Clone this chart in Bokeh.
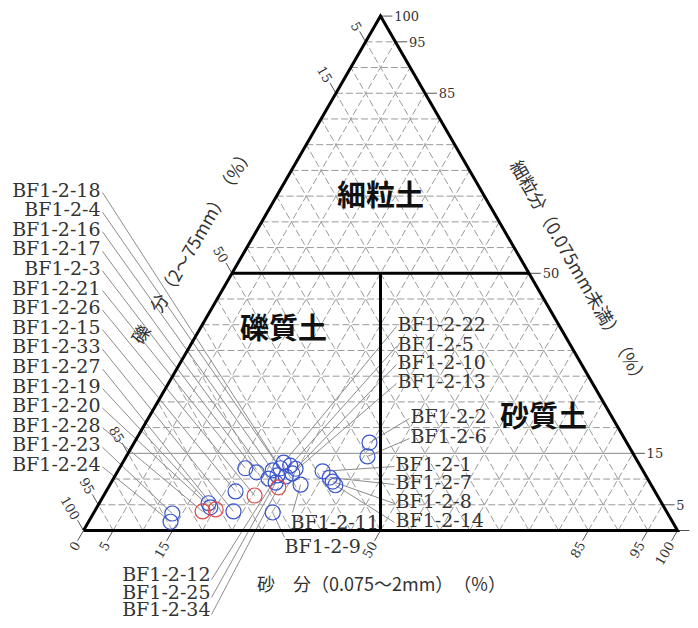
import math
from bokeh.plotting import figure
from bokeh.models import Range1d
from bokeh.embed import file_html
from bokeh.resources import INLINE
from bokeh.core.properties import value

# ---------------- data (percent) ----------------
samples = ["BF1-2-1", "BF1-2-2", "BF1-2-3", "BF1-2-4", "BF1-2-5", "BF1-2-6",
           "BF1-2-7", "BF1-2-8", "BF1-2-9", "BF1-2-10", "BF1-2-11", "BF1-2-12",
           "BF1-2-13", "BF1-2-14", "BF1-2-15", "BF1-2-16", "BF1-2-17", "BF1-2-18",
           "BF1-2-19", "BF1-2-20", "BF1-2-21", "BF1-2-22", "BF1-2-23", "BF1-2-24",
           "BF1-2-25", "BF1-2-26", "BF1-2-27", "BF1-2-28", "BF1-2-33", "BF1-2-34"]
sand = [34.5, 39.6, 23.5, 28.8, 28.5, 40.6, 36.3, 37.2, 30.1, 29.7, 32.1, 27.3,
        29.6, 38.0, 21.8, 26.0, 26.1, 27.1, 18.4, 19.1, 21.2, 27.1, 13.3, 13.8,
        27.7, 25.4, 20.2, 18.2, 23.4, 28.6]
fines = [11.5, 17.1, 11.3, 10.5, 12.6, 14.4, 10.3, 9.5, 3.5, 12.0, 8.9, 10.7,
         11.1, 8.8, 7.6, 11.7, 10.1, 12.1, 5.3, 4.5, 12.1, 13.2, 3.3, 1.7,
         9.3, 6.8, 4.1, 3.7, 3.7, 8.4]
gravel = [54.0, 43.3, 65.2, 60.7, 58.9, 45.0, 53.4, 53.3, 66.4, 58.3, 59.0, 62.0,
          59.3, 53.2, 70.6, 62.3, 63.8, 60.8, 76.3, 76.4, 66.7, 59.7, 83.4, 84.5,
          63.0, 67.8, 75.7, 78.1, 72.9, 63.0]
red_samples = ["BF1-2-26", "BF1-2-27", "BF1-2-28", "BF1-2-34"]

sand_ticks = [0, 5, 15, 50, 85, 95, 100]
gravel_ticks = [5, 15, 50, 85, 95, 100]
fines_ticks = [100, 95, 85, 50, 15, 5]

region_names = ["細粒土", "礫質土", "砂質土"]
title_sand = "砂　分（0.075～2mm）　（%）"
title_gravel = "礫　分（2～75mm）　（%）"
title_fines = "細粒分（0.075mm未満）　（%）"

# ---------------- layout helpers ----------------
H = math.sqrt(3) / 2
X0, Y0, K = 83.0, 530.0, 5.94      # canvas pixel of (sand=0,fines=0) and px per unit


def tern(s, f):
    return s + f / 2.0, f * H


def px(x, y):
    return (x - X0) / K, (Y0 - y) / K


W, HT = 690, 620
p = figure(width=W, height=HT, output_backend="svg", toolbar_location=None,
           x_range=Range1d((0 - X0) / K, (W - X0) / K),
           y_range=Range1d((Y0 - HT) / K, Y0 / K),
           x_axis_location=None, y_axis_location=None, min_border=0)
p.grid.visible = False
p.outline_line_color = None
p.background_fill_color = "white"

# ---------------- grid ----------------
gx0, gy0, gx1, gy1 = [], [], [], []
for k in range(5, 100, 5):
    for a, b in ((tern(k, 0), tern(k, 100 - k)),            # constant sand
                 (tern(100 - k, 0), tern(0, 100 - k))):     # constant gravel
        gx0.append(a[0]); gy0.append(a[1]); gx1.append(b[0]); gy1.append(b[1])
    if k not in (15, 50):
        a, b = tern(0, k), tern(100 - k, k)
        gx0.append(a[0]); gy0.append(a[1]); gx1.append(b[0]); gy1.append(b[1])
p.segment(gx0, gy0, gx1, gy1, line_color="#9a9a9a", line_width=1, line_dash="7 3")
a, b = tern(0, 15), tern(85, 15)
p.segment([a[0]], [a[1]], [b[0]], [b[1]], line_color="#8a8a8a", line_width=1)

# ---------------- ticks ----------------
L = 2.0
tx0, ty0, tx1, ty1 = [], [], [], []
bl_x, bl_y, bl_t = [], [], []
for s in sand_ticks:
    x, y = tern(s, 0)
    ex, ey = x - 0.5 * L, y - H * L
    tx0.append(x); ty0.append(y); tx1.append(ex); ty1.append(ey)
    bl_x.append(ex - 0.15); bl_y.append(ey - 0.26); bl_t.append(str(s))
ll_x, ll_y, ll_t = [], [], []
for g in gravel_ticks:
    x, y = tern(0, 100 - g)
    ex, ey = x - 0.5 * L, y + H * L
    tx0.append(x); ty0.append(y); tx1.append(ex); ty1.append(ey)
    ll_x.append(ex - 0.15); ll_y.append(ey + 0.26); ll_t.append(str(g))
rl_x, rl_y, rl_t = [], [], []
for f in fines_ticks + [0]:
    x, y = tern(100 - f, f)
    tx0.append(x); ty0.append(y); tx1.append(x + L); ty1.append(y)
    if f != 0:
        rl_x.append(x + L + 0.3); rl_y.append(y); rl_t.append(str(f))
p.segment(tx0, ty0, tx1, ty1, line_color="#555555", line_width=1)

tick_font = dict(text_font=value("DejaVu Serif"), text_font_size="13px",
                 text_color="#333333", text_baseline="middle")
p.text(bl_x, bl_y, text=bl_t, angle=math.radians(60), text_align="right", **tick_font)
p.text(ll_x, ll_y, text=ll_t, angle=math.radians(-60), text_align="right", **tick_font)
p.text(rl_x, rl_y, text=rl_t, text_align="left", **tick_font)

# ---------------- leader lines & labels ----------------
pos = {n: tern(s, f) for n, s, f in zip(samples, sand, fines)}

left_order = ["BF1-2-18", "BF1-2-4", "BF1-2-16", "BF1-2-17", "BF1-2-3", "BF1-2-21",
              "BF1-2-26", "BF1-2-15", "BF1-2-33", "BF1-2-27", "BF1-2-19", "BF1-2-20",
              "BF1-2-28", "BF1-2-23", "BF1-2-24"]
# (name, text x px, text y px, align, leader start px)
placements = []
for i, n in enumerate(left_order):
    y = 189 + 19.6 * i
    placements.append((n, 100, y, "right", (102, y + 3)))
for n, x, y in [("BF1-2-22", 397, 323), ("BF1-2-5", 397, 343), ("BF1-2-10", 397, 361),
                ("BF1-2-13", 397, 380), ("BF1-2-2", 410, 415), ("BF1-2-6", 410, 435),
                ("BF1-2-1", 395, 463), ("BF1-2-7", 395, 481), ("BF1-2-8", 395, 500),
                ("BF1-2-14", 395, 519)]:
    placements.append((n, x, y, "left", (x - 1, y + 3)))
placements.append(("BF1-2-11", 290, 521, "left", (292, 512)))
placements.append(("BF1-2-9", 284, 545, "left", (284, 537)))
for n, y in [("BF1-2-12", 573), ("BF1-2-25", 591), ("BF1-2-34", 608)]:
    placements.append((n, 210, y, "right", (211, y + 6)))

lx0, ly0, lx1, ly1 = [], [], [], []
for n, x, y, al, st in placements:
    a = px(*st)
    b = pos[n]
    lx0.append(a[0]); ly0.append(a[1]); lx1.append(b[0]); ly1.append(b[1])
p.segment(lx0, ly0, lx1, ly1, line_color="#8c8c8c", line_width=1)

# ---------------- triangle & boundaries ----------------
A, B, C = tern(0, 0), tern(100, 0), tern(0, 100)
p.line([A[0], B[0], C[0], A[0]], [A[1], B[1], C[1], A[1]], line_color="black",
       line_width=3, line_join="miter")
m1, m2 = tern(0, 50), tern(50, 50)
p.line([m1[0], m2[0]], [m1[1], m2[1]], line_color="black", line_width=3)
v1, v2 = tern(50, 0), tern(25, 50)
p.line([v1[0], v2[0]], [v1[1], v2[1]], line_color="black", line_width=3)

# ---------------- sample labels ----------------
lab_font = dict(text_font=value("DejaVu Serif"), text_font_size="19px",
                text_color="#333333", text_baseline="middle")
for al in ("left", "right"):
    xs, ys, ts = [], [], []
    for n, x, y, a_, st in placements:
        if a_ == al:
            q = px(x, y)
            xs.append(q[0]); ys.append(q[1]); ts.append(n)
    p.text(xs, ys, text=ts, text_align=al, **lab_font)

# ---------------- region names ----------------
rx, ry = zip(*[px(380, 192), px(283, 325), px(543, 413)])
p.text(list(rx), list(ry), text=region_names, text_align="center", text_baseline="middle",
       text_font=value("Noto Sans CJK JP"), text_font_style="bold",
       text_font_size="29px", text_color="#111111")

# ---------------- axis titles ----------------
ttl = dict(text_font=value("Noto Sans CJK JP"), text_font_size="18px",
           text_color="#333333", text_align="center", text_baseline="middle")
q = px(381, 582)
p.text([q[0]], [q[1]], text=[title_sand], **ttl)
q = px(191, 244)
p.text([q[0]], [q[1]], text=[title_gravel], angle=math.radians(60), **ttl)
q = px(580, 272)
p.text([q[0]], [q[1]], text=[title_fines], angle=math.radians(-60), **ttl)

# ---------------- points ----------------
colors = ["#e04848" if n in red_samples else "#3a55d0" for n in samples]
xs = [pos[n][0] for n in samples]
ys = [pos[n][1] for n in samples]
p.scatter(xs, ys, marker="circle", size=15, fill_color=None, line_color=colors,
          line_width=1.2)

open("out.html", "w").write(file_html(p, INLINE))
